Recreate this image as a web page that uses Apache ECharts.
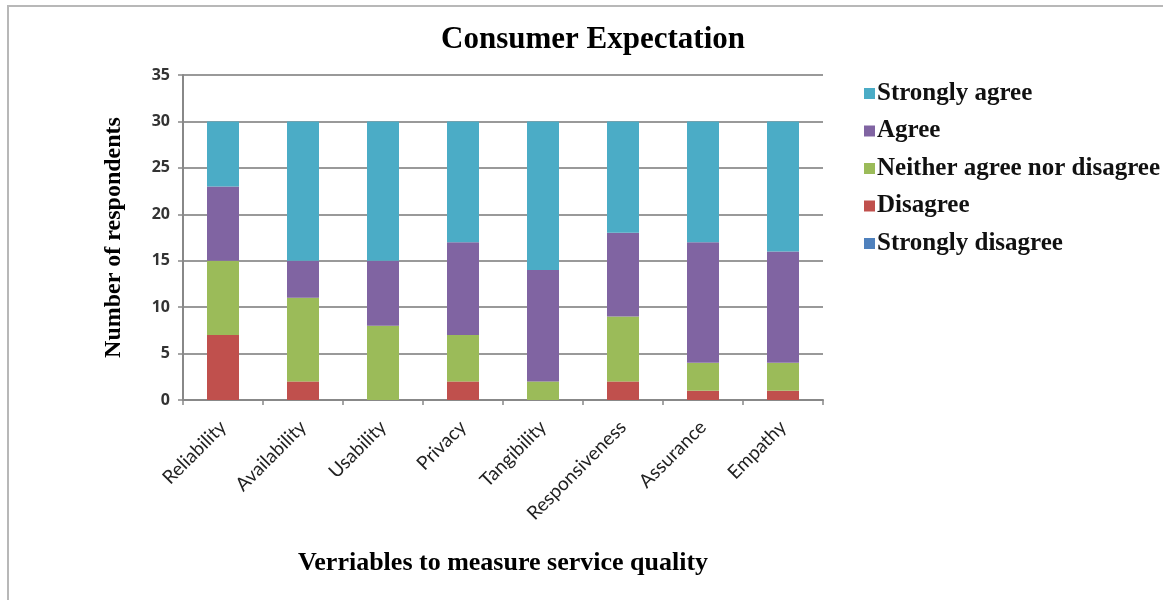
<!DOCTYPE html>
<html><head><meta charset="utf-8">
<script src="https://cdn.jsdelivr.net/npm/echarts@6/dist/echarts.min.js"></script>
<style>html,body{margin:0;padding:0;background:#fff}#c{width:1163px;height:600px}</style>
</head><body><div id="c"></div>
<script>
const categories = ['Reliability','Availability','Usability','Privacy','Tangibility','Responsiveness','Assurance','Empathy'];
const stronglyDisagree = [0,0,0,0,0,0,0,0];
const disagree = [7,2,0,2,0,2,1,1];
const neither = [8,9,8,5,2,7,3,3];
const agree = [8,4,7,10,12,9,13,12];
const stronglyAgree = [7,15,15,13,16,12,13,14];
const yTicks = [0,5,10,15,20,25,30,35];

const colors = {sd:'#4F81BD', d:'#C0504D', n:'#9BBB59', a:'#8064A2', sa:'#4BACC6'};
const serif = '"Liberation Serif","DejaVu Serif",serif';
function mk(name, data, color){
  return {name, type:'bar', stack:'t', data, barWidth:'40%', itemStyle:{color}};
}
const chart = echarts.init(document.getElementById('c'), null, {renderer:'canvas'});
chart.setOption({
  animation:false,
  graphic:[{type:'rect', shape:{x:8,y:6,width:1200,height:640}, style:{fill:'none', stroke:'#b8b8b8', lineWidth:2}}],
  title:{text:'Consumer Expectation', left:588, top:19, textAlign:'center',
    textStyle:{fontFamily:serif, fontSize:31, fontWeight:'bold', color:'#000'}},
  legend:{orient:'vertical', left:859, top:76, itemGap:12.5, itemWidth:11, itemHeight:11, icon:'rect',
    data:['Strongly agree','Agree','Neither agree nor disagree','Disagree','Strongly disagree'],
    textStyle:{fontFamily:serif, fontSize:25, lineHeight:24, fontWeight:'bold', color:'#111', padding:[0,0,0,-3]}},
  grid:{left:183, top:75, width:640, height:325, containLabel:false},
  xAxis:{type:'category', data:categories,
    name:'Verriables to measure service quality', nameLocation:'middle', nameGap:150,
    nameTextStyle:{fontFamily:serif, fontSize:26, fontWeight:'bold', color:'#000'},
    axisLine:{lineStyle:{color:'#888', width:2}},
    axisTick:{show:true, length:5, lineStyle:{color:'#888', width:1.5}},
    axisLabel:{rotate:45, fontFamily:'Lato, "Open Sans", sans-serif', fontSize:19, color:'#222', margin:24}},
  yAxis:{type:'value', min:0, max:35, interval:5,
    name:'Number of respondents', nameLocation:'middle', nameGap:57,
    nameTextStyle:{fontFamily:serif, fontSize:24, fontWeight:'bold', color:'#000'},
    axisLine:{show:true, lineStyle:{color:'#888', width:2}},
    axisTick:{show:true, length:5, lineStyle:{color:'#888', width:1.5}},
    splitLine:{lineStyle:{color:'#999', width:2}},
    axisLabel:{fontFamily:'"Open Sans", sans-serif', fontSize:16, fontWeight:'bold', color:'#333', margin:13,
      formatter: v => yTicks.includes(v) ? String(v) : ''}},
  series:[
    mk('Strongly disagree', stronglyDisagree, colors.sd),
    mk('Disagree', disagree, colors.d),
    mk('Neither agree nor disagree', neither, colors.n),
    mk('Agree', agree, colors.a),
    mk('Strongly agree', stronglyAgree, colors.sa)
  ]
});
</script></body></html>
